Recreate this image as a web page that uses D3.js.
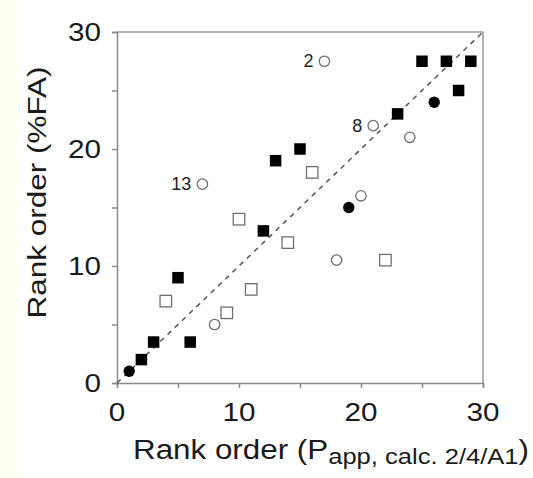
<!DOCTYPE html>
<html>
<head>
<meta charset="utf-8">
<script src="https://cdn.jsdelivr.net/npm/d3@7"></script>
<style>
  body { margin: 0; background: #fffff2; }
  #chart { width: 533px; height: 478px; }
  text { font-family: "Liberation Sans", Arial, sans-serif; }
</style>
</head>
<body>
<div id="chart"></div>
<script>
// data
const filledSquareX = [2, 3, 5, 6, 12, 13, 15, 23, 25, 27, 29, 28];
const filledSquareY = [2, 3.5, 9, 3.5, 13, 19, 20, 23, 27.5, 27.5, 27.5, 25];
const filledCircleX = [1, 19, 26];
const filledCircleY = [1, 15, 24];
const openSquareX = [4, 9, 10, 11, 14, 16, 22];
const openSquareY = [7, 6, 14, 8, 12, 18, 10.5];
const openCircleX = [8, 7, 17, 18, 20, 21, 24];
const openCircleY = [5, 17, 27.5, 10.5, 16, 22, 21];
const pointLabels = ["2", "8", "13"];
const labelX = [17, 21, 7];
const labelY = [27.5, 22, 17];
const majorTicks = [0, 10, 20, 30];
const minorTicks = [5, 15, 25];

const W = 533, H = 478;
const margin = {top: 32, right: 50, bottom: 95, left: 117};

const svg = d3.select("#chart")
  .append("svg")
    .attr("width", W)
    .attr("height", H);

// white page with pale stripes at the sides
svg.append("rect")
  .attr("x", 18).attr("y", 0)
  .attr("width", 512).attr("height", H)
  .attr("fill", "#ffffff");

const x = d3.scaleLinear().domain([0, 30]).range([margin.left, W - margin.right]);
const y = d3.scaleLinear().domain([0, 30]).range([H - margin.bottom, margin.top]);

const axisColor = "#8a8a8a";

// frame top / right
svg.append("line")
  .attr("x1", x(0)).attr("x2", x(30))
  .attr("y1", y(30)).attr("y2", y(30))
  .attr("stroke", "#9a9a9a").attr("stroke-width", 1.5);
svg.append("line")
  .attr("x1", x(30)).attr("x2", x(30))
  .attr("y1", y(0)).attr("y2", y(30))
  .attr("stroke", "#9a9a9a").attr("stroke-width", 1.5);

// axes
const xAxis = svg.append("g")
  .attr("transform", `translate(0,${y(0)})`)
  .call(d3.axisBottom(x).tickValues(majorTicks.concat(minorTicks)).tickSize(5).tickFormat(""));
const yAxis = svg.append("g")
  .attr("transform", `translate(${x(0)},0)`)
  .call(d3.axisLeft(y).tickValues(majorTicks.concat(minorTicks)).tickSize(5).tickFormat(""));
[xAxis, yAxis].forEach(g => {
  g.select(".domain").attr("stroke", axisColor).attr("stroke-width", 1.5);
  g.selectAll(".tick line").attr("stroke", axisColor).attr("stroke-width", 1.5);
});

// tick labels (glyphs in the original are a bit wide)
svg.selectAll(".xlab")
  .data(majorTicks)
  .join("text")
  .attr("x", d => x(d))
  .attr("y", y(0) + 38)
  .attr("text-anchor", "middle")
  .attr("font-size", 26)
  .attr("fill", "#1a1a1a")
  .attr("textLength", d => String(d).length * 16.5)
  .attr("lengthAdjust", "spacingAndGlyphs")
  .text(d => d);
svg.selectAll(".ylab")
  .data(majorTicks)
  .join("text")
  .attr("x", x(0) - 16)
  .attr("y", d => y(d) + 9)
  .attr("text-anchor", "end")
  .attr("font-size", 26)
  .attr("fill", "#1a1a1a")
  .attr("textLength", d => String(d).length * 16.5)
  .attr("lengthAdjust", "spacingAndGlyphs")
  .text(d => d);

// axis titles
const xt = svg.append("text")
  .attr("x", 133)
  .attr("y", 459)
  .attr("font-size", 27)
  .attr("fill", "#1a1a1a")
  .attr("textLength", 396)
  .attr("lengthAdjust", "spacingAndGlyphs");
xt.append("tspan").text("Rank order (P");
xt.append("tspan").attr("font-size", 22).attr("dy", 5).text("app, calc. 2/4/A1");
xt.append("tspan").attr("dy", -5).text(")");

svg.append("text")
  .attr("transform", `translate(46,${(y(0) + y(30)) / 2 - 15}) rotate(-90)`)
  .attr("text-anchor", "middle")
  .attr("font-size", 26)
  .attr("fill", "#1a1a1a")
  .attr("textLength", 252)
  .attr("lengthAdjust", "spacingAndGlyphs")
  .text("Rank order (%FA)");

// identity line
svg.append("line")
  .attr("x1", x(0)).attr("y1", y(0))
  .attr("x2", x(30)).attr("y2", y(30))
  .attr("stroke", "#555")
  .attr("stroke-width", 1.5)
  .attr("stroke-dasharray", "5,5");

const sq = 11.5, rad = 5.2;
const zip = (xs, ys) => xs.map((v, i) => ({x: v, y: ys[i]}));

// open markers
svg.selectAll(".osq")
  .data(zip(openSquareX, openSquareY))
  .join("rect")
  .attr("x", d => x(d.x) - sq / 2)
  .attr("y", d => y(d.y) - sq / 2)
  .attr("width", sq).attr("height", sq)
  .attr("fill", "#fff")
  .attr("stroke", "#6f6f6f")
  .attr("stroke-width", 1.3);
svg.selectAll(".oci")
  .data(zip(openCircleX, openCircleY))
  .join("circle")
  .attr("cx", d => x(d.x))
  .attr("cy", d => y(d.y))
  .attr("r", rad)
  .attr("fill", "#fff")
  .attr("stroke", "#6f6f6f")
  .attr("stroke-width", 1.3);

// filled markers
svg.selectAll(".fsq")
  .data(zip(filledSquareX, filledSquareY))
  .join("rect")
  .attr("x", d => x(d.x) - sq / 2)
  .attr("y", d => y(d.y) - sq / 2)
  .attr("width", sq).attr("height", sq)
  .attr("fill", "#000");
svg.selectAll(".fci")
  .data(zip(filledCircleX, filledCircleY))
  .join("circle")
  .attr("cx", d => x(d.x))
  .attr("cy", d => y(d.y))
  .attr("r", rad + 0.5)
  .attr("fill", "#000");

// point labels
svg.selectAll(".plab")
  .data(pointLabels)
  .join("text")
  .attr("x", (d, i) => x(labelX[i]) - 11)
  .attr("y", (d, i) => y(labelY[i]) + 6)
  .attr("text-anchor", "end")
  .attr("font-size", 18)
  .attr("fill", "#222")
  .text(d => d);
</script>
</body>
</html>
